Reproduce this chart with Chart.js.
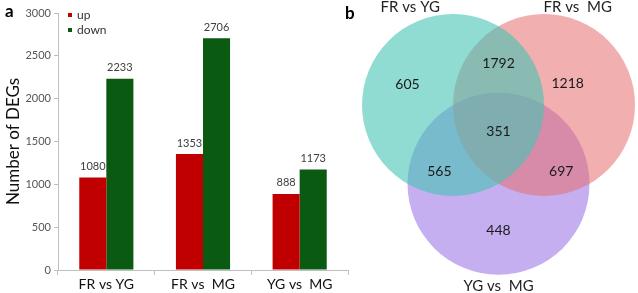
<!DOCTYPE html>
<html><head><meta charset="utf-8">
<script src="https://cdn.jsdelivr.net/npm/chart.js@4.4.1/dist/chart.umd.min.js"></script>
<style>
html,body{margin:0;padding:0;background:#fff;width:638px;height:293px;overflow:hidden;position:relative}
#bar{position:absolute;left:0;top:0}
#venn{position:absolute;left:318px;top:0}
.lab{position:absolute;font-family:Lato,"Liberation Sans",sans-serif;font-weight:bold;font-size:17px;color:#000}
</style></head>
<body>
<canvas id="bar" width="352" height="293"></canvas>
<canvas id="venn" width="320" height="293"></canvas>
<div class="lab" style="left:5px;top:0px">a</div>
<div class="lab" style="left:345px;top:2px">b</div>
<script>
// ---- Panel a data ----
const categories = ["FR vs YG", "FR vs  MG", "YG vs  MG"];
const upValues = [1080, 1353, 888];
const downValues = [2233, 2706, 1173];
const seriesNames = ["up", "down"];
const yTicks = [0, 500, 1000, 1500, 2000, 2500, 3000];

// ---- Panel b data ----
const setNames = ["FR vs YG", "FR vs  MG", "YG vs  MG"];
const regionCounts = [605, 1218, 448, 1792, 565, 697, 351];
// layout of the Venn (unit circles, equilateral arrangement)
const setCenters = [[-0.5, 0], [0.5, 0], [0, -0.866]];
const regionLabelPos = [[-1.0, 0.23], [0.76, 0.24], [0, -1.38], [0, 0.46], [-0.65, -0.73], [0.69, -0.73], [0, -0.29]];
const setLabelPos = [[-0.97, 1.08], [0.87, 1.08], [0, -1.99]];

const FONT = 'Lato, "Liberation Sans", sans-serif';
const RED = '#c00000', GREEN = '#0b5a12';

const barLabels = {
  id: 'barLabels',
  afterDatasetsDraw(chart) {
    const c = chart.ctx;
    c.save();
    c.font = '11px ' + FONT;
    c.fillStyle = '#404040';
    c.textAlign = 'center';
    c.textBaseline = 'middle';
    chart.data.datasets.forEach((ds, i) => {
      chart.getDatasetMeta(i).data.forEach((el, j) => {
        c.fillText(String(ds.data[j]), el.x, el.y - 11);
      });
    });
    // legend
    const items = [[RED, seriesNames[0], 15], [GREEN, seriesNames[1], 30]];
    c.textAlign = 'left';
    c.font = '12px ' + FONT;
    items.forEach(([col, t, y]) => {
      c.fillStyle = col;
      c.fillRect(68, y - 2, 4, 4);
      c.fillStyle = '#333';
      c.fillText(t, 77, y);
    });
    c.restore();
  }
};

new Chart(document.getElementById('bar'), {
  type: 'bar',
  data: {
    labels: categories,
    datasets: [
      { label: seriesNames[0], data: upValues, backgroundColor: RED, categoryPercentage: 0.56, barPercentage: 1.0 },
      { label: seriesNames[1], data: downValues, backgroundColor: GREEN, categoryPercentage: 0.56, barPercentage: 1.0 }
    ]
  },
  options: {
    responsive: false, animation: false, events: [],
    layout: { padding: { left: 0, right: 4, top: 13, bottom: 0 } },
    plugins: { legend: { display: false }, tooltip: { enabled: false } },
    scales: {
      x: {
        grid: { display: true, drawOnChartArea: false, drawTicks: true, tickLength: 5, offset: true, color: '#bfbfbf' },
        border: { color: '#bfbfbf' },
        ticks: { color: '#111', font: { family: FONT, size: 14 }, padding: 1 },
        afterFit(s) { s.height = 23; }
      },
      y: {
        min: 0, max: 3000,
        afterBuildTicks(s) { s.ticks = yTicks.map(v => ({ value: v })); },
        grid: { display: true, drawOnChartArea: false, drawTicks: true, tickLength: 4, color: '#bfbfbf' },
        border: { color: '#bfbfbf' },
        ticks: { color: '#555', font: { family: FONT, size: 11 }, padding: 3, callback: v => String(v) },
        title: { display: true, text: 'Number of DEGs', color: '#111', font: { family: FONT, size: 17 }, padding: { top: 3, bottom: 0 } },
        afterFit(s) { s.width = 58; }
      }
    }
  },
  plugins: [barLabels]
});

// ---- Venn ----
const vennColors = ['rgba(70,195,180,0.6)', 'rgba(230,110,110,0.55)', 'rgba(150,110,230,0.55)'];
const vennText = {
  id: 'vennText',
  afterDatasetsDraw(chart) {
    const c = chart.ctx, xs = chart.scales.x, ys = chart.scales.y;
    c.save();
    c.textAlign = 'center';
    c.textBaseline = 'middle';
    c.font = '14px ' + FONT;
    c.fillStyle = '#1a1a1a';
    regionCounts.forEach((n, i) => {
      c.fillText(String(n), xs.getPixelForValue(regionLabelPos[i][0]), ys.getPixelForValue(regionLabelPos[i][1]));
    });
    c.fillStyle = '#222';
    c.font = '15px ' + FONT;
    setNames.forEach((t, i) => {
      c.fillText(t, xs.getPixelForValue(setLabelPos[i][0]), ys.getPixelForValue(setLabelPos[i][1]));
    });
    c.restore();
  }
};
const unitR = ctx => {
  const xs = ctx.chart.scales.x;
  return xs ? Math.abs(xs.getPixelForValue(1) - xs.getPixelForValue(0)) : 0;
};
new Chart(document.getElementById('venn'), {
  type: 'scatter',
  data: {
    datasets: setCenters.map((p, i) => ({
      label: setNames[i],
      data: [{ x: p[0], y: p[1] }],
      backgroundColor: vennColors[i],
      borderWidth: 0,
      pointRadius: unitR,
      clip: false
    }))
  },
  options: {
    responsive: false, animation: false, events: [],
    layout: { padding: 0 },
    plugins: { legend: { display: false }, tooltip: { enabled: false } },
    scales: {
      x: { type: 'linear', display: false, min: -1.984, max: 1.533 },
      y: { type: 'linear', display: false, min: -2.066, max: 1.154 }
    }
  },
  plugins: [vennText]
});
</script>
</body></html>
